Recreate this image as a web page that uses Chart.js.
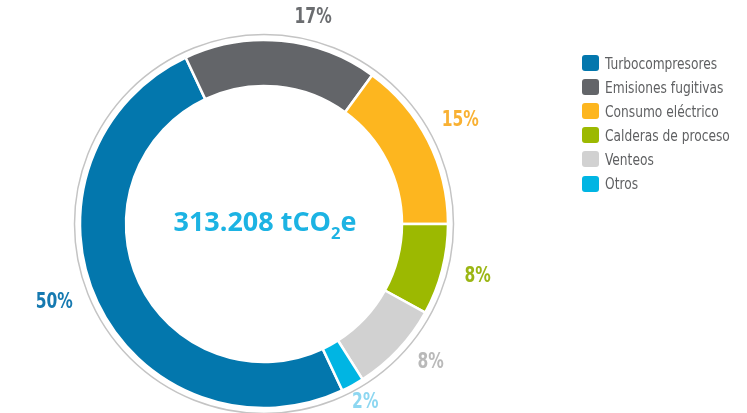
<!DOCTYPE html>
<html lang="es">
<head>
  <meta charset="UTF-8" />
  <title>Emisiones por fuente</title>
  <script src="https://cdn.jsdelivr.net/npm/chart.js"></script>
  <style>
    html, body { margin: 0; padding: 0; background: #fff; }
    .lienzo { position: relative; width: 747px; height: 413px; }
    #leyenda {
      position: absolute; left: 582px; top: 51px;
      font-family: 'Liberation Sans Narrow', 'DejaVu Sans Condensed', sans-serif;
      font-size: 16px; color: #5f6062; white-space: nowrap;
    }
    #leyenda div { height: 24.1px; display: flex; align-items: center; }
    #leyenda span.caja {
      display: inline-block; width: 17px; height: 16px; border-radius: 3px; margin-right: 6px; flex: none;
    }
    #leyenda span.txt { display: inline-block; transform: scaleX(0.85); transform-origin: left center; }
  </style>
</head>
<body>
  <div class="lienzo">
    <canvas id="graficoEmisiones" width="747" height="413"></canvas>
    <div id="leyenda"></div>
  </div>

  <script>
    // datos
    const fuentes = ['Turbocompresores', 'Emisiones fugitivas', 'Consumo eléctrico', 'Calderas de proceso', 'Venteos', 'Otros'];
    const porcentajes = [50, 17, 15, 8, 8, 2];
    const totalTexto = '313.208 tCO';

    const colores = ['#0377ad', '#636569', '#fdb61f', '#9cb901', '#d1d1d1', '#00b5e3'];
    const coloresEtiqueta = ['#1579b0', '#6b6d70', '#f9b133', '#9bb614', '#b9b9b9', '#8dd7f1'];
    // ajuste de la posicion de cada etiqueta: giro (grados) y distancia al centro
    const ajusteEtiqueta = [[4.6, 224], [8, 212], [-0.9, 222], [-0.7, 220], [-3.4, 217], [-0.8, 205]];

    const leyenda = document.getElementById('leyenda');
    fuentes.forEach((f, i) => {
      const fila = document.createElement('div');
      fila.innerHTML = '<span class="caja" style="background:' + colores[i] + '"></span><span class="txt">' + f + '</span>';
      leyenda.appendChild(fila);
    });

    const anilloExterior = {
      id: 'anilloExterior',
      beforeDatasetsDraw(chart) {
        const arco = chart.getDatasetMeta(0).data[0];
        const c = chart.ctx;
        c.save();
        c.beginPath();
        c.arc(arco.x, arco.y, arco.outerRadius + 5.5, 0, Math.PI * 2);
        c.strokeStyle = '#c4c4c4';
        c.lineWidth = 1.5;
        c.stroke();
        c.restore();
      }
    };

    const etiquetas = {
      id: 'etiquetas',
      afterDatasetsDraw(chart) {
        const c = chart.ctx;
        const arcos = chart.getDatasetMeta(0).data;
        c.save();
        c.font = 'bold 21px "Liberation Sans Narrow", "DejaVu Sans Condensed", sans-serif';
        c.textAlign = 'center';
        c.textBaseline = 'middle';
        arcos.forEach((a, i) => {
          const ang = (a.startAngle + a.endAngle) / 2 + ajusteEtiqueta[i][0] * Math.PI / 180;
          const r = ajusteEtiqueta[i][1];
          c.save();
          c.translate(a.x + r * Math.cos(ang), a.y + r * Math.sin(ang));
          c.scale(0.82, 1);
          c.fillStyle = coloresEtiqueta[i];
          c.fillText(porcentajes[i] + '%', 0, 0);
          c.restore();
        });

        // texto central, ajustado a un ancho de 183 px
        const cx = arcos[0].x, cy = arcos[0].y;
        const fuenteG = 'bold 26px "Open Sans", sans-serif';
        const fuenteS = 'bold 16px "Open Sans", sans-serif';
        c.font = fuenteG;
        const w1 = c.measureText(totalTexto).width;
        c.font = fuenteS;
        const w2 = c.measureText('2').width;
        c.font = fuenteG;
        const w3 = c.measureText('e').width;
        const total = w1 + w2 + w3;
        const k = 183 / total;
        c.translate(cx + 1, cy + 7);
        c.scale(k, 1);
        let x = -total / 2;
        c.textAlign = 'left';
        c.textBaseline = 'alphabetic';
        c.fillStyle = '#1cb3e3';
        c.fillText(totalTexto, x, 0);
        x += w1;
        c.font = fuenteS;
        c.fillText('2', x, 8);
        x += w2;
        c.font = fuenteG;
        c.fillText('e', x, 0);
        c.restore();
      }
    };

    const ctx = document.getElementById('graficoEmisiones').getContext('2d');
    new Chart(ctx, {
      type: 'doughnut',
      data: {
        labels: fuentes,
        datasets: [{
          data: porcentajes,
          backgroundColor: colores,
          borderColor: '#ffffff',
          borderWidth: 2.5
        }]
      },
      options: {
        responsive: false,
        animation: false,
        rotation: 154.8,
        radius: 184,
        cutout: '75%',
        layout: { padding: { left: 64, right: 283, top: 36, bottom: 1 } },
        plugins: {
          legend: { display: false },
          tooltip: { enabled: false }
        }
      },
      plugins: [anilloExterior, etiquetas]
    });
  </script>
</body>
</html>
